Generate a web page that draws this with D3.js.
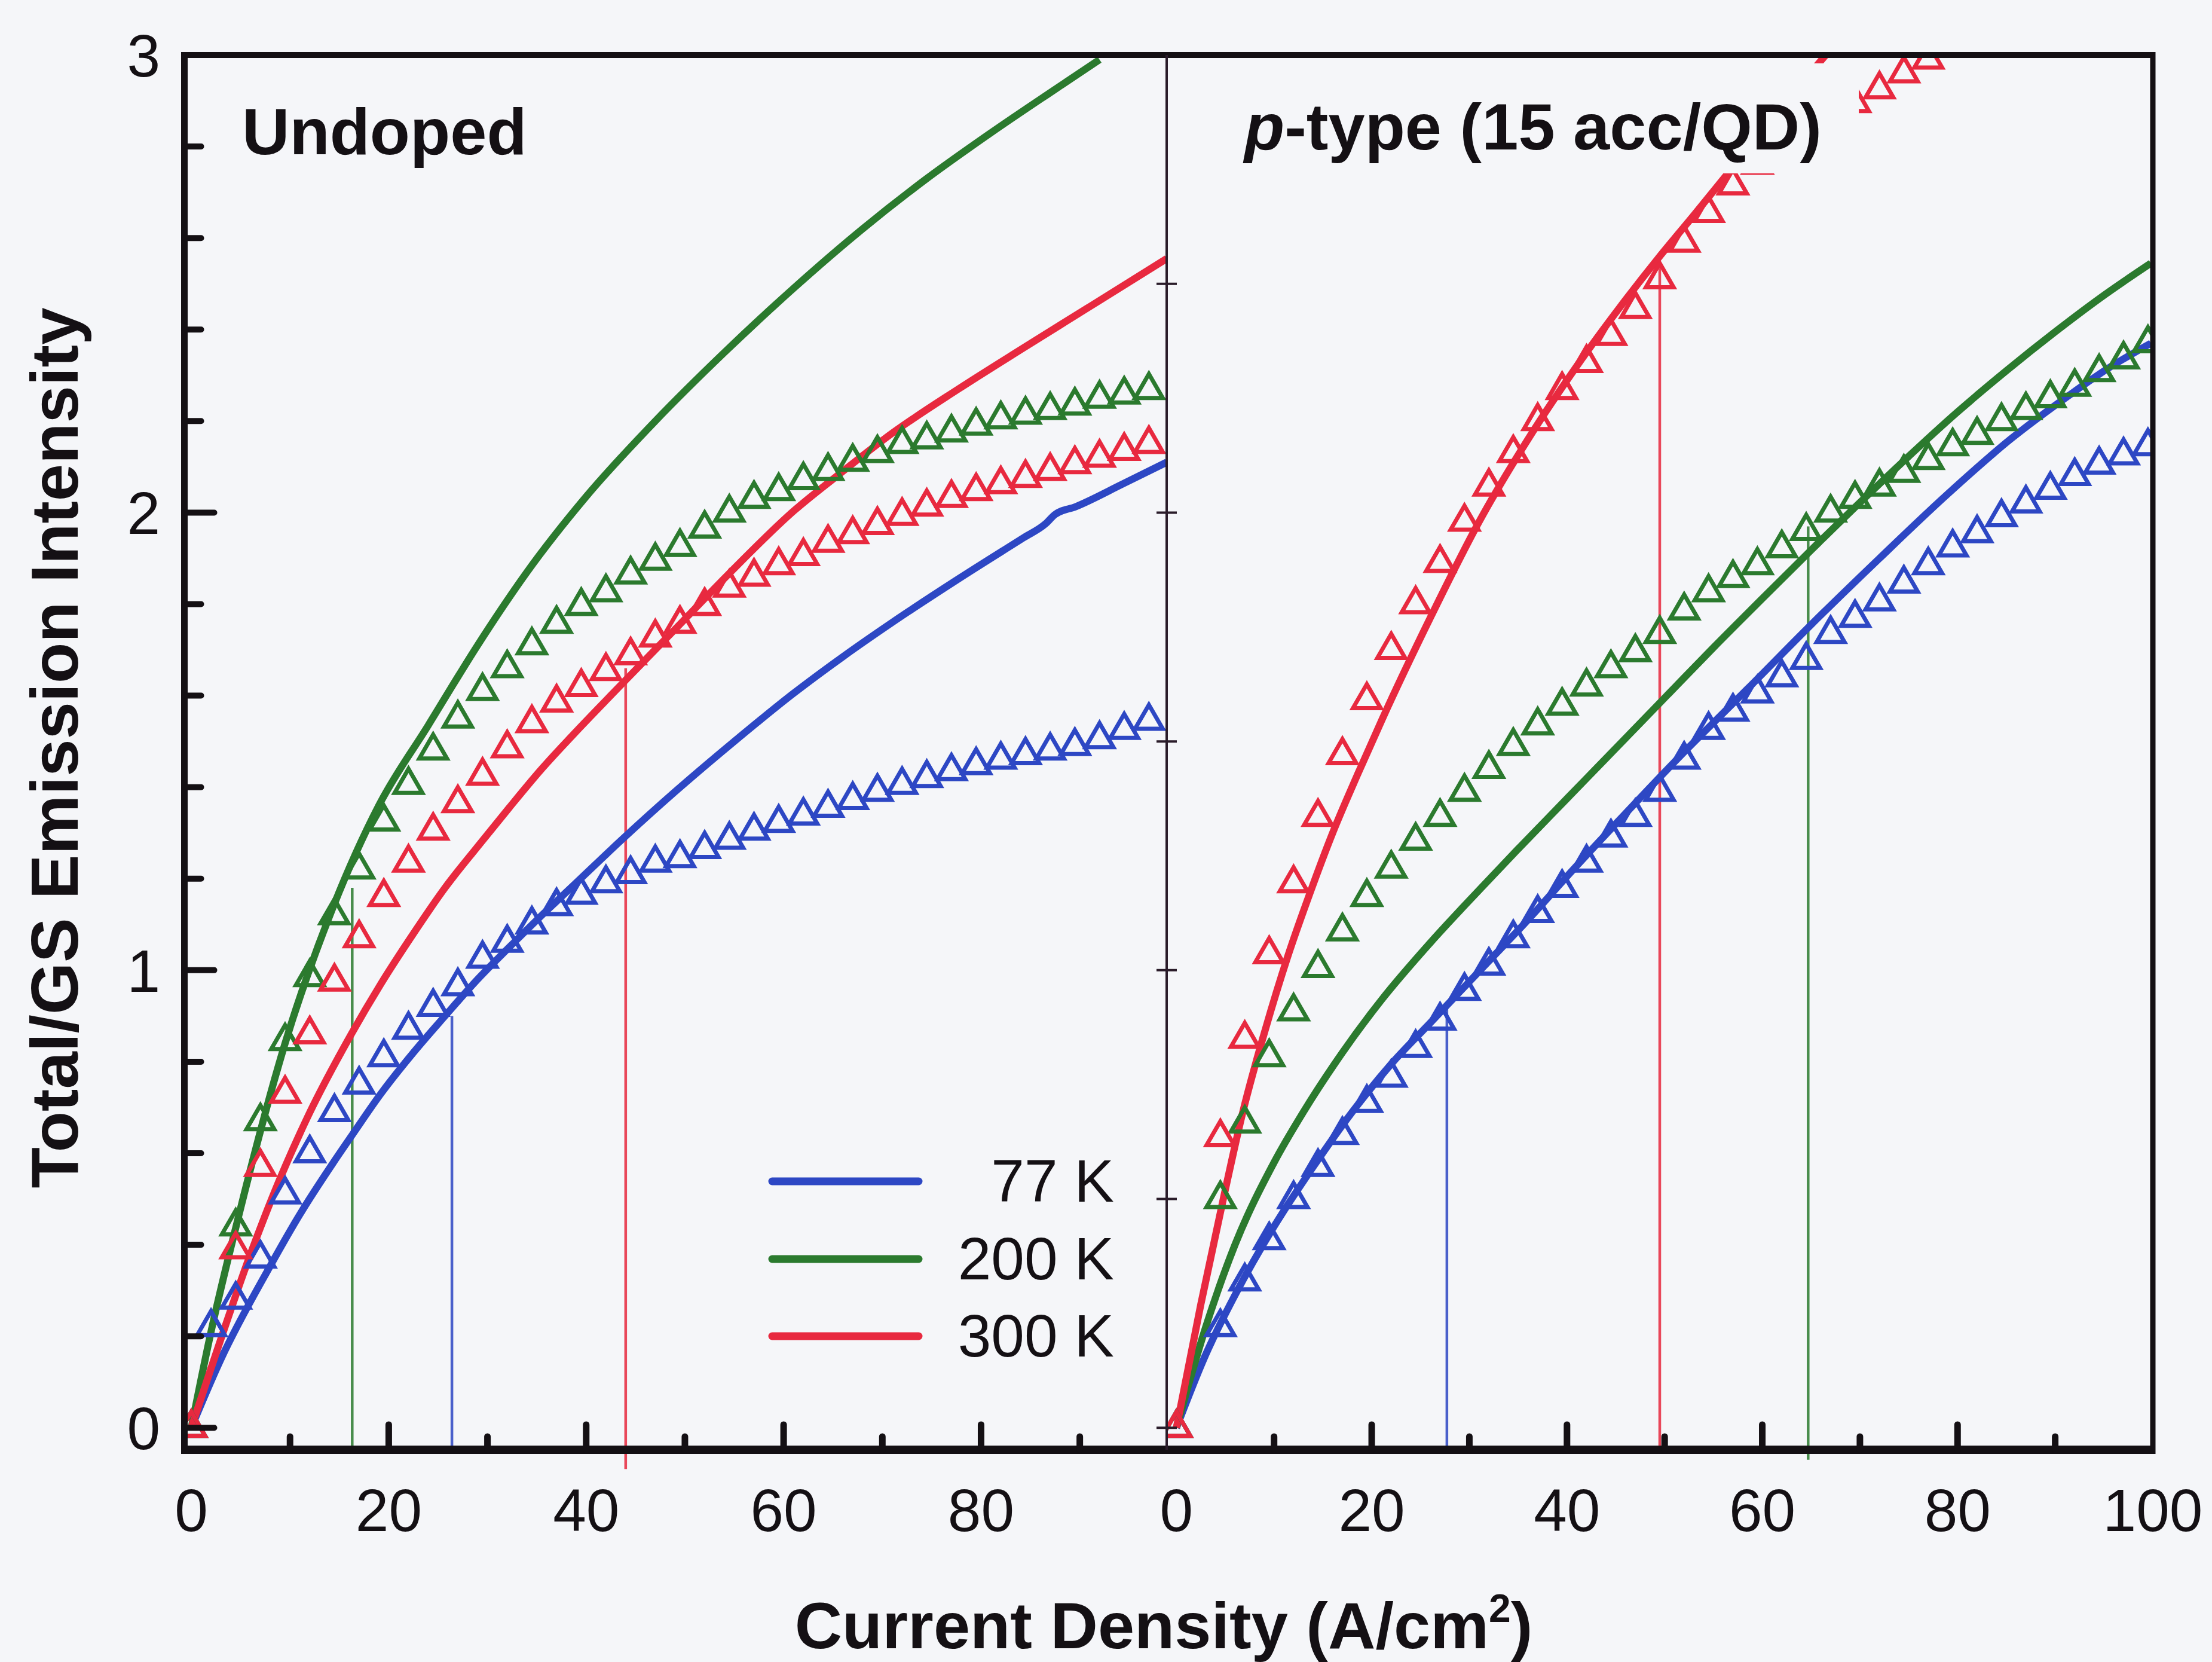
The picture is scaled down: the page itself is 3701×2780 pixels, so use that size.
<!DOCTYPE html>
<html>
<head>
<meta charset="utf-8">
<script src="https://cdn.jsdelivr.net/npm/d3@7"></script>
<style>
  html, body { margin: 0; padding: 0; background: #f5f6f9; }
  svg { display: block; }
</style>
</head>
<body>
<svg id="chart" width="3701" height="2780"></svg>
<script>
// ---- Series colours (temperature) ----
const temps = ["77 K", "200 K", "300 K"];
const tempColors = ["#2d47c4", "#2b7a2e", "#e8293f"];

// ---- Measured points (triangles): shared current-density grid, A/cm2 ----
const markerX = [0, 2, 4.5, 7, 9.5, 12, 14.5, 17, 19.5, 22, 24.5, 27, 29.5, 32, 34.5, 37, 39.5, 42, 44.5, 47,
  49.5, 52, 54.5, 57, 59.5, 62, 64.5, 67, 69.5, 72, 74.5, 77, 79.5, 82, 84.5, 87, 89.5, 92, 94.5, 97, 99.5];

// Undoped
const undopedPts77 = [0, 0.22, 0.28, 0.37, 0.51, 0.60, 0.69, 0.75, 0.81, 0.87, 0.92, 0.965, 1.025, 1.06, 1.10, 1.14,
  1.165, 1.19, 1.21, 1.235, 1.245, 1.265, 1.285, 1.305, 1.322, 1.338, 1.355, 1.372, 1.39, 1.405, 1.42, 1.435,
  1.448, 1.46, 1.47, 1.48, 1.49, 1.505, 1.525, 1.545, null];
const undopedPts200 = [0, null, 0.44, 0.67, 0.845, 0.985, 1.12, 1.22, 1.325, 1.405, 1.48, 1.55, 1.61, 1.66, 1.71,
  1.757, 1.796, 1.826, 1.865, 1.895, 1.925, 1.965, 2.0, 2.03, 2.047, 2.071, 2.091, 2.111, 2.13, 2.15, 2.16, 2.175,
  2.19, 2.204, 2.214, 2.224, 2.234, 2.249, 2.258, 2.268, null];
const undopedPts300 = [0, null, 0.39, 0.57, 0.73, 0.86, 0.975, 1.07, 1.16, 1.235, 1.305, 1.365, 1.425, 1.485, 1.54,
  1.585, 1.619, 1.654, 1.688, 1.727, 1.757, 1.796, 1.836, 1.86, 1.885, 1.905, 1.934, 1.953, 1.973, 1.993, 2.013,
  2.032, 2.047, 2.062, 2.076, 2.091, 2.106, 2.12, 2.135, 2.15, null];

// p-type (15 acc/QD)
const ptypePts77 = [0, null, 0.22, 0.32, 0.41, 0.50, 0.57, 0.64, 0.71, 0.765, 0.83, 0.89, 0.955, 1.01, 1.07, 1.125,
  1.18, 1.235, 1.29, 1.335, 1.39, 1.46, 1.525, 1.565, 1.605, 1.64, 1.678, 1.735, 1.77, 1.806, 1.845, 1.885, 1.924,
  1.955, 1.99, 2.02, 2.05, 2.08, 2.105, 2.125, 2.145];
const ptypePts200 = [0, null, 0.50, 0.665, 0.81, 0.91, 1.005, 1.085, 1.16, 1.222, 1.283, 1.335, 1.39, 1.44, 1.49,
  1.535, 1.578, 1.62, 1.66, 1.695, 1.735, 1.786, 1.826, 1.857, 1.885, 1.922, 1.96, 2.0, 2.03, 2.057, 2.087, 2.115,
  2.145, 2.17, 2.2, 2.224, 2.25, 2.275, 2.307, 2.335, 2.37];
const ptypePts300 = [0, null, 0.635, 0.85, 1.035, 1.19, 1.335, 1.47, 1.59, 1.70, 1.80, 1.89, 1.98, 2.057, 2.13, 2.20,
  2.268, 2.327, 2.386, 2.445, 2.51, 2.59, 2.655, 2.715, 2.76, 2.80, 2.835, 2.865, 2.895, 2.925, 2.96, 2.99,
  null, null, null, null, null, null, null, null, null];

// ---- Calculated curves (solid lines) ----
const undopedFit77X = [0, 3, 7.9, 11.1, 14.4, 16.3, 19.2, 22.5, 25.7, 29, 32.2, 35.5, 38.7, 43.6, 49, 55, 61, 66, 71, 77.7, 84.3, 86.5, 87.5, 89.6, 94.3, 98.8];
const undopedFit77Y = [0, 0.15, 0.35, 0.47, 0.58, 0.64, 0.73, 0.82, 0.90, 0.98, 1.05, 1.12, 1.185, 1.285, 1.39, 1.50, 1.605, 1.685, 1.76, 1.855, 1.945, 1.975, 1.996, 2.013, 2.062, 2.11];
const undopedFit200X = [0, 2, 4.65, 9.5, 14.4, 19, 24, 29, 34, 40, 47, 54, 61, 68, 74.5, 81, 87.5, 92];
const undopedFit200Y = [0, 0.21, 0.45, 0.84, 1.14, 1.36, 1.535, 1.71, 1.87, 2.035, 2.20, 2.35, 2.49, 2.62, 2.73, 2.83, 2.925, 2.99];
const undopedFit300X = [0, 2, 6, 8.9, 11.8, 16.2, 19.2, 22.5, 25.7, 29, 32.2, 35.5, 38.7, 43.6, 49, 54.4, 61.1, 65.4, 71.1, 77.7, 84.3, 91, 98.8];
const undopedFit300Y = [0, 0.13, 0.38, 0.54, 0.68, 0.86, 0.97, 1.08, 1.18, 1.27, 1.355, 1.44, 1.515, 1.625, 1.745, 1.865, 2.005, 2.08, 2.175, 2.27, 2.36, 2.45, 2.555];

const ptypeFit77X = [0, 3, 6, 10, 14, 18, 22, 26, 28, 32, 36, 40, 45, 51, 58.5, 65, 72, 78.7, 85.4, 92, 95.4, 99.8];
const ptypeFit77Y = [0, 0.16, 0.29, 0.44, 0.57, 0.69, 0.795, 0.885, 0.93, 1.02, 1.11, 1.205, 1.32, 1.455, 1.615, 1.755, 1.90, 2.035, 2.16, 2.265, 2.315, 2.37];
const ptypeFit200X = [0, 3, 6, 10, 13, 17, 21, 26, 31, 35, 40, 45, 50, 55, 60, 65, 70, 75, 80, 85, 90, 95, 99.8];
const ptypeFit200Y = [0, 0.22, 0.40, 0.58, 0.69, 0.82, 0.935, 1.06, 1.175, 1.265, 1.375, 1.485, 1.595, 1.705, 1.812, 1.918, 2.022, 2.123, 2.22, 2.31, 2.395, 2.475, 2.545];
const ptypeFit300X = [0, 2.5, 4.8, 6.8, 9.1, 11.4, 13.7, 16, 18.6, 21, 26, 31, 36, 41, 46, 49.5, 53, 57, 61, 66.5];
const ptypeFit300Y = [0, 0.27, 0.50, 0.69, 0.87, 1.03, 1.17, 1.30, 1.43, 1.545, 1.77, 1.98, 2.16, 2.32, 2.465, 2.56, 2.65, 2.755, 2.86, 3.0];

// ---- Vertical reference lines (current density at which each curve is read) ----
const undopedRefX = [26.4, 16.3, 44.0];
const undopedRefTop = [0.90, 1.18, 1.66];
const undopedRefBottom = [-0.048, -0.048, -0.09];
const ptypeRefX = [27.7, 64.7, 49.5];
const ptypeRefTop = [0.92, 1.97, 2.54];
const ptypeRefBottom = [-0.048, -0.07, -0.048];

// ---- Tick values ----
const xTickMinor = [10, 30, 50, 70, 90];
const xTickMajor = [20, 40, 60, 80];
const xLabelsLeft = [0, 20, 40, 60, 80];
const xLabelsRight = [0, 20, 40, 60, 80, 100];
const yTickMinor = [0.2, 0.4, 0.6, 0.8, 1.2, 1.4, 1.6, 1.8, 2.2, 2.4, 2.6, 2.8];
const yTickMajor = [0, 1, 2];
const yLabels = [0, 1, 2, 3];
const dividerTicks = [0, 0.5, 1, 1.5, 2, 2.5];

// ---- Layout ----
const bg = "#f5f6f9";
const ink = "#141014";
const font = "'Liberation Sans', Arial, Helvetica, sans-serif";

const plotTop = 92, plotBottom = 2425;
const leftX0 = 308.5, dividerX = 1952, rightX1 = 3602;

const y = d3.scaleLinear().domain([-0.048, 3.0]).range([plotBottom, plotTop]);
const xL = d3.scaleLinear().domain([-0.7, 98.8]).range([leftX0, dividerX]);
const xR = d3.scaleLinear().domain([-1, 100]).range([dividerX, rightX1]);

const svg = d3.select("#chart");
svg.append("rect").attr("width", 3701).attr("height", 2780).attr("fill", bg);

const defs = svg.append("defs");
defs.append("clipPath").attr("id", "clipL").append("rect")
  .attr("x", leftX0).attr("y", plotTop).attr("width", dividerX - leftX0).attr("height", plotBottom - plotTop);
defs.append("clipPath").attr("id", "clipR").append("rect")
  .attr("x", dividerX).attr("y", plotTop).attr("width", rightX1 - dividerX).attr("height", plotBottom - plotTop);

function drawPanel(x, clipId, pts, fits, refX, refTop, refBottom) {
  // vertical reference lines
  const refs = svg.append("g");
  refX.forEach((v, i) => {
    refs.append("line")
      .attr("x1", x(v)).attr("x2", x(v))
      .attr("y1", y(refBottom[i])).attr("y2", y(refTop[i]))
      .attr("stroke", tempColors[i]).attr("stroke-width", 4.5).attr("opacity", 0.85);
  });

  const g = svg.append("g").attr("clip-path", `url(#${clipId})`);
  // calculated curves
  fits.forEach((f, i) => {
    const data = f[0].map((v, k) => [v, f[1][k]]);
    g.append("path")
      .datum(data)
      .attr("fill", "none")
      .attr("stroke", tempColors[i])
      .attr("stroke-width", 12)
      .attr("stroke-linejoin", "round")
      .attr("d", d3.line().x(d => x(d[0])).y(d => y(d[1])).curve(d3.curveMonotoneX));
  });
  // measured points
  const tri = d3.symbol().type(d3.symbolTriangle).size(930);
  pts.forEach((arr, i) => {
    const data = markerX.map((v, k) => [v, arr[k]]).filter(d => d[1] !== null && d[1] !== undefined);
    g.append("g").selectAll("path").data(data).join("path")
      .attr("transform", d => `translate(${x(d[0])},${y(d[1])})`)
      .attr("d", tri)
      .attr("fill", "none")
      .attr("stroke", tempColors[i])
      .attr("stroke-width", 7)
      .attr("stroke-linejoin", "miter");
  });
}

drawPanel(xL, "clipL",
  [undopedPts77, undopedPts200, undopedPts300],
  [[undopedFit77X, undopedFit77Y], [undopedFit200X, undopedFit200Y], [undopedFit300X, undopedFit300Y]],
  undopedRefX, undopedRefTop, undopedRefBottom);

drawPanel(xR, "clipR",
  [ptypePts77, ptypePts200, ptypePts300],
  [[ptypeFit77X, ptypeFit77Y], [ptypeFit200X, ptypeFit200Y], [ptypeFit300X, ptypeFit300Y]],
  ptypeRefX, ptypeRefTop, ptypeRefBottom);

// ---- Panel titles (with an opaque backing box) ----
svg.append("rect").attr("x", 2070).attr("y", 106).attr("width", 1040).attr("height", 184).attr("fill", bg);
svg.append("text")
  .attr("x", 405).attr("y", 258)
  .attr("font-family", font).attr("font-weight", "bold").attr("font-size", 110)
  .attr("fill", ink).text("Undoped");
const pt = svg.append("text")
  .attr("x", 2082).attr("y", 250)
  .attr("font-family", font).attr("font-weight", "bold").attr("font-size", 110)
  .attr("fill", ink);
pt.append("tspan").attr("font-style", "italic").text("p");
pt.append("tspan").text("-type (15 acc/QD)");

// ---- Frame ----
const frame = svg.append("g").attr("stroke", ink);
frame.append("line").attr("x1", leftX0).attr("x2", leftX0).attr("y1", plotTop - 5).attr("y2", plotBottom + 7).attr("stroke-width", 11);
frame.append("line").attr("x1", leftX0 - 5).attr("x2", rightX1 + 4).attr("y1", plotTop).attr("y2", plotTop).attr("stroke-width", 10);
frame.append("line").attr("x1", rightX1).attr("x2", rightX1).attr("y1", plotTop - 5).attr("y2", plotBottom + 7).attr("stroke-width", 9);
frame.append("line").attr("x1", leftX0 - 5).attr("x2", rightX1 + 4).attr("y1", plotBottom).attr("y2", plotBottom).attr("stroke-width", 14);
frame.append("line").attr("x1", dividerX).attr("x2", dividerX).attr("y1", plotTop).attr("y2", plotBottom).attr("stroke-width", 4).attr("stroke", "#2a1c2a");

// ---- Ticks ----
const ticks = svg.append("g").attr("stroke", ink).attr("stroke-linecap", "round");
yTickMinor.forEach(v => ticks.append("line").attr("x1", leftX0).attr("x2", leftX0 + 28).attr("y1", y(v)).attr("y2", y(v)).attr("stroke-width", 10));
yTickMajor.forEach(v => ticks.append("line").attr("x1", leftX0).attr("x2", leftX0 + 50).attr("y1", y(v)).attr("y2", y(v)).attr("stroke-width", 10));
[xL, xR].forEach(x => {
  xTickMinor.forEach(v => ticks.append("line").attr("x1", x(v)).attr("x2", x(v)).attr("y1", plotBottom).attr("y2", plotBottom - 22).attr("stroke-width", 11));
  xTickMajor.forEach(v => ticks.append("line").attr("x1", x(v)).attr("x2", x(v)).attr("y1", plotBottom).attr("y2", plotBottom - 42).attr("stroke-width", 11));
});
dividerTicks.forEach(v => svg.append("line")
  .attr("x1", dividerX - 17).attr("x2", dividerX + 17).attr("y1", y(v)).attr("y2", y(v))
  .attr("stroke", "#2a1c2a").attr("stroke-width", 4));

// ---- Tick labels ----
const lab = svg.append("g").attr("font-family", font).attr("font-size", 100).attr("fill", ink);
yLabels.forEach(v => lab.append("text").attr("x", 268).attr("y", y(v)).attr("dy", "0.36em").attr("text-anchor", "end").text(v));
xLabelsLeft.forEach(v => lab.append("text").attr("x", xL(v)).attr("y", 2561).attr("text-anchor", "middle").text(v));
xLabelsRight.forEach(v => lab.append("text").attr("x", xR(v)).attr("y", 2561).attr("text-anchor", "middle").text(v));

// ---- Axis titles ----
svg.append("text")
  .attr("transform", "translate(130,1251) rotate(-90)")
  .attr("text-anchor", "middle")
  .attr("font-family", font).attr("font-weight", "bold").attr("font-size", 112).attr("fill", ink)
  .text("Total/GS Emission Intensity");
const xt = svg.append("text")
  .attr("x", 1947).attr("y", 2757).attr("text-anchor", "middle")
  .attr("font-family", font).attr("font-weight", "bold").attr("font-size", 110).attr("fill", ink);
xt.append("tspan").text("Current Density (A/cm");
xt.append("tspan").attr("font-size", 66).attr("dy", -44).text("2");
xt.append("tspan").attr("dy", 44).text(")");

// ---- Legend ----
const legY = [1976, 2106, 2235];
const leg = svg.append("g");
temps.forEach((t, i) => {
  leg.append("line").attr("x1", 1292).attr("x2", 1537).attr("y1", legY[i]).attr("y2", legY[i])
    .attr("stroke", tempColors[i]).attr("stroke-width", 13).attr("stroke-linecap", "round");
  leg.append("text").attr("x", 1864).attr("y", legY[i] + 34).attr("text-anchor", "end")
    .attr("font-family", font).attr("font-size", 100).attr("fill", ink).text(t);
});
</script>
</body>
</html>
